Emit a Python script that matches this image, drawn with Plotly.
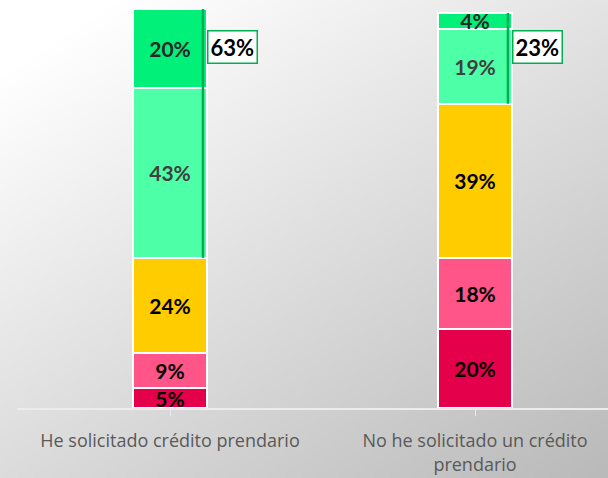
import base64, struct, zlib
import plotly.graph_objects as go

categories = ["He solicitado crédito prendario", "No he solicitado un crédito<br>prendario"]
seg_red = [5, 20]
seg_pink = [9, 18]
seg_yellow = [24, 39]
seg_lightgreen = [43, 19]
seg_green = [20, 4]
green_totals = ["63%", "23%"]

colors = ["#E4004B", "#FF5588", "#FFCC00", "#4DFFA6", "#00F07A"]
text_colors = ["#000000", "#000000", "#000000", "#404040", "#262626"]
series = [seg_red, seg_pink, seg_yellow, seg_lightgreen, seg_green]

W, H = 608, 478
ML, MR, MT, MB = 17, 0, 9, 70
PW, PH = W - ML - MR, H - MT - MB
PX_PER_CAT = 305
FIRST_CENTER = 170


def gradient_png(w, h):
    rows = []
    for j in range(h):
        row = bytearray([0])
        for i in range(w):
            v = 262 - 34 * (i / (w - 1)) - 42 * (j / (h - 1))
            row.append(max(0, min(255, int(v))))
        rows.append(bytes(row))
    raw = b"".join(rows)

    def chunk(t, d):
        c = struct.pack(">I", len(d)) + t + d
        return c + struct.pack(">I", zlib.crc32(t + d) & 0xFFFFFFFF)

    png = b"\x89PNG\r\n\x1a\n"
    png += chunk(b"IHDR", struct.pack(">IIBBBBB", w, h, 8, 0, 0, 0, 0))
    png += chunk(b"IDAT", zlib.compress(raw, 9))
    png += chunk(b"IEND", b"")
    return "data:image/png;base64," + base64.b64encode(png).decode()


xs = list(range(len(categories)))
fig = go.Figure()
for k, (vals, col, tcol) in enumerate(zip(series, colors, text_colors)):
    fig.add_trace(go.Bar(
        x=xs, y=vals, width=0.245,
        marker=dict(color=col, line=dict(color="white", width=2)),
        text=[f"{v}%" for v in vals], textposition="inside",
        insidetextanchor="middle",
        textfont=dict(family="Lato", size=21, color=tcol, weight="bold"),
        cliponaxis=(k != len(series) - 1),
        hoverinfo="skip", showlegend=False,
    ))

shapes = []
annotations = []
for i in xs:
    base = seg_red[i] + seg_pink[i] + seg_yellow[i]
    top = base + seg_lightgreen[i] + seg_green[i]
    shapes.append(dict(type="line", xref="x", yref="y",
                       x0=i + 0.108, x1=i + 0.108, y0=base, y1=top,
                       line=dict(color="#00B050", width=2.5)))
    annotations.append(dict(x=i + 0.1225, y=91.3, xref="x", yref="y",
                            xanchor="left", yanchor="middle", showarrow=False,
                            text=green_totals[i],
                            font=dict(family="Lato", size=22, color="#000000", weight="bold"),
                            bgcolor="white", bordercolor="#00B050", borderwidth=1.5,
                            borderpad=2))

x_left = -(FIRST_CENTER - ML) / PX_PER_CAT
x_right = (W - FIRST_CENTER) / PX_PER_CAT

fig.update_layout(
    barmode="stack",
    width=W, height=H,
    margin=dict(l=ML, r=MR, t=MT, b=MB),
    paper_bgcolor="#e6e6e6", plot_bgcolor="rgba(0,0,0,0)",
    uniformtext=dict(minsize=21, mode="show"),
    shapes=shapes, annotations=annotations,
    images=[dict(source=gradient_png(152, 120), xref="paper", yref="paper",
                 x=-ML / PW, y=1 + MT / PH, sizex=W / PW, sizey=H / PH,
                 sizing="stretch", xanchor="left", yanchor="top",
                 layer="below")],
    xaxis=dict(tickmode="array", tickvals=xs, ticktext=categories,
               range=[x_left, x_right],
               showline=True, linecolor="#ececec", linewidth=1.5,
               ticks="outside", tickson="boundaries", ticklen=6, tickcolor="#ececec",
               ticklabelstandoff=10,
               showgrid=False, zeroline=False,
               tickfont=dict(family="Open Sans", size=18, color="#595959")),
    yaxis=dict(range=[0, 101], visible=False, showgrid=False, zeroline=False),
)
fig.write_html("out.html", config={"displayModeBar": False},
               post_script="document.body.style.margin='0';document.body.style.padding='0';")
